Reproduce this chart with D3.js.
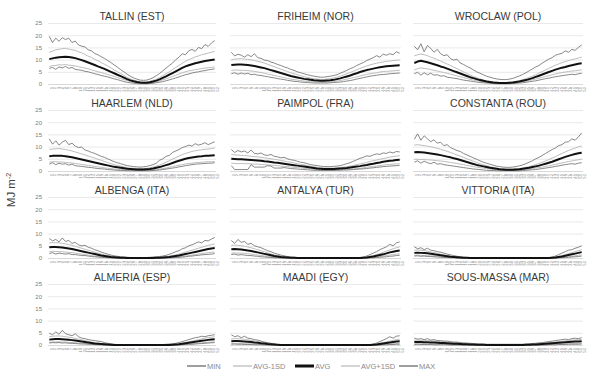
<!DOCTYPE html>
<html><head><meta charset="utf-8">
<script src="https://cdn.jsdelivr.net/npm/d3@7/dist/d3.min.js"></script>
<style>body{margin:0;background:#fff}svg{display:block;font-family:"Liberation Sans",Arial,sans-serif}</style>
</head><body><svg id="c" width="600" height="379"></svg>
<script>
const weeks = ["1","2","3","4","5","6","7","8","9","10","11","12","13","14","15","16","17","18","19","20","21","22","23","24","25","26","27","28","29","30","31","32","33","34","35","36","37","38","39","40","41","42","43","44","45","46","47","48","49","50","51","52"];
const yTicks = [0,5,10,15,20,25];
const seriesNames = ["MIN","AVG-1SD","AVG","AVG+1SD","MAX"];
const stationNames = ["TALLIN (EST)","FRIHEIM (NOR)","WROCLAW (POL)","HAARLEM (NLD)","PAIMPOL (FRA)","CONSTANTA (ROU)","ALBENGA (ITA)","ANTALYA (TUR)","VITTORIA (ITA)","ALMERIA (ESP)","MAADI (EGY)","SOUS-MASSA (MAR)"];

// TALLIN
const tallinAvg=[10.2,10.5,10.8,11.0,11.1,11.2,11.1,10.9,10.6,10.2,9.8,9.3,8.8,8.3,7.8,7.2,6.7,6.2,5.6,5.0,4.4,3.8,3.2,2.6,2.0,1.5,1.1,0.8,0.6,0.5,0.5,0.7,1.0,1.4,1.9,2.5,3.1,3.8,4.5,5.2,5.9,6.6,7.2,7.7,8.1,8.5,8.8,9.1,9.4,9.6,9.8,10.0];
const tallinHi=[13.0,13.5,14.0,14.2,14.5,14.6,14.3,14.0,13.8,13.2,12.8,12.1,11.4,10.9,10.1,9.5,8.8,8.1,7.4,6.6,5.8,5.0,4.3,3.5,2.7,2.1,1.6,1.2,0.9,0.8,0.8,1.1,1.5,2.0,2.6,3.4,4.2,5.0,5.9,6.8,7.6,8.5,9.3,10.0,10.5,11.1,11.5,12.0,12.3,12.7,13.0,13.4];
const tallinLo=[7.2,7.5,7.6,7.9,7.8,8.0,7.7,7.6,7.4,7.1,6.8,6.5,6.2,5.8,5.4,5.0,4.7,4.3,3.9,3.5,3.1,2.6,2.2,1.8,1.4,1.0,0.7,0.5,0.3,0.3,0.3,0.4,0.6,0.9,1.2,1.7,2.1,2.6,3.1,3.6,4.1,4.6,5.0,5.4,5.6,5.9,6.1,6.3,6.5,6.7,6.8,7.0];
const tallinMax=[19.5,17.0,18.8,17.5,19.0,18.2,18.8,17.0,17.6,16.0,15.5,15.2,14.0,13.6,12.5,12.0,11.2,10.5,9.6,8.8,7.8,6.9,5.9,5.0,4.0,3.2,2.5,2.0,1.6,1.5,1.6,2.0,2.6,3.4,4.3,5.4,6.5,7.6,8.6,10.0,11.0,12.4,12.0,13.6,14.2,13.4,15.0,14.5,16.2,15.4,16.8,17.8];
const tallinMin=[6.4,6.8,6.0,7.0,6.6,7.2,6.4,6.8,6.0,5.8,5.6,5.2,5.0,4.6,4.2,3.9,3.5,3.2,2.9,2.5,2.1,1.8,1.4,1.0,0.7,0.5,0.3,0.2,0.1,0.1,0.1,0.2,0.3,0.5,0.7,1.0,1.3,1.7,2.1,2.5,2.9,3.4,3.8,4.1,4.5,4.8,5.0,5.3,5.5,5.8,6.0,6.2];
// FRIHEIM
const friheimAvg=[7.8,7.9,8.0,8.0,7.9,7.8,7.6,7.4,7.1,6.8,6.5,6.1,5.7,5.3,4.9,4.5,4.1,3.7,3.3,3.0,2.7,2.4,2.1,1.9,1.7,1.5,1.4,1.3,1.3,1.4,1.5,1.7,2.0,2.3,2.7,3.1,3.5,4.0,4.4,4.9,5.3,5.7,6.0,6.3,6.6,6.9,7.1,7.3,7.4,7.5,7.6,7.7];
const friheimHi=[10.0,10.2,10.3,10.4,10.2,10.1,9.9,9.6,9.3,9.0,8.6,8.1,7.6,7.1,6.6,6.1,5.6,5.1,4.6,4.2,3.8,3.4,3.0,2.7,2.4,2.2,2.0,1.9,1.9,2.0,2.2,2.5,2.8,3.2,3.7,4.2,4.7,5.3,5.8,6.4,6.9,7.4,7.8,8.2,8.5,8.8,9.0,9.3,9.4,9.6,9.7,9.9];
const friheimLo=[5.6,5.7,5.7,5.6,5.6,5.5,5.3,5.2,4.9,4.7,4.4,4.1,3.8,3.5,3.2,2.9,2.6,2.3,2.0,1.8,1.6,1.4,1.2,1.1,1.0,0.9,0.8,0.7,0.7,0.8,0.9,1.0,1.2,1.4,1.7,2.0,2.3,2.6,2.9,3.3,3.6,3.9,4.2,4.4,4.6,4.9,5.1,5.2,5.3,5.4,5.5,5.6];
const friheimMax=[13.0,11.5,12.2,11.8,11.0,12.0,11.2,12.4,10.8,10.5,9.8,9.6,9.0,8.6,8.0,7.6,7.0,6.6,6.0,5.6,5.0,4.6,4.2,3.8,3.5,3.2,3.0,2.8,2.8,3.0,3.2,3.5,3.8,4.4,5.0,5.6,6.3,6.8,7.6,8.2,8.8,9.6,10.2,10.8,11.6,11.0,12.2,11.8,12.4,12.0,13.2,12.6];
const friheimMin=[4.2,4.6,4.0,4.5,4.1,4.4,3.8,4.0,3.6,3.5,3.2,3.0,2.7,2.5,2.2,2.0,1.8,1.5,1.3,1.1,1.0,0.8,0.7,0.6,0.5,0.4,0.4,0.4,0.4,0.4,0.5,0.6,0.7,0.8,1.0,1.2,1.4,1.7,2.0,2.3,2.6,2.9,3.2,3.4,3.6,3.8,3.9,4.0,4.2,4.3,4.4,4.5];
// WROCLAW
const wroclawAvg=[8.6,9.2,9.5,9.2,8.9,8.5,8.1,7.7,7.2,6.8,6.3,5.8,5.3,4.8,4.3,3.8,3.3,2.8,2.4,2.0,1.6,1.3,1.0,0.8,0.6,0.5,0.4,0.4,0.4,0.5,0.6,0.8,1.0,1.3,1.6,2.0,2.4,2.9,3.4,3.9,4.4,4.9,5.4,5.9,6.3,6.7,7.0,7.4,7.7,8.0,8.3,8.5];
const wroclawHi=[11.5,12.0,12.3,12.0,11.6,11.0,10.6,10.0,9.4,8.8,8.2,7.6,6.9,6.3,5.6,5.0,4.3,3.7,3.1,2.6,2.1,1.7,1.3,1.1,0.9,0.7,0.6,0.6,0.6,0.7,0.9,1.1,1.4,1.8,2.2,2.7,3.2,3.8,4.5,5.1,5.8,6.4,7.1,7.7,8.2,8.8,9.2,9.6,10.0,10.3,10.6,11.0];
const wroclawLo=[5.8,6.3,6.6,6.4,6.2,5.9,5.6,5.3,5.0,4.7,4.4,4.0,3.7,3.3,3.0,2.6,2.3,1.9,1.6,1.4,1.1,0.9,0.7,0.5,0.4,0.3,0.2,0.2,0.2,0.3,0.4,0.5,0.7,0.9,1.1,1.4,1.7,2.0,2.4,2.7,3.1,3.4,3.8,4.1,4.4,4.7,4.9,5.1,5.3,5.4,5.6,5.8];
const wroclawMax=[15.5,14.0,16.5,13.2,15.8,14.6,13.0,14.2,12.4,11.6,12.0,10.4,9.8,10.2,8.6,8.0,7.2,6.6,5.8,5.0,4.4,3.8,3.2,2.8,2.4,2.1,1.9,1.8,1.8,2.0,2.3,2.8,3.3,3.9,4.6,5.4,6.2,7.0,7.6,8.6,9.4,10.2,10.8,11.8,12.2,12.6,13.6,13.0,14.2,13.8,15.0,16.0];
const wroclawMin=[4.2,4.8,3.6,4.6,3.8,4.4,3.6,3.8,3.2,3.4,2.8,2.6,2.4,2.2,1.9,1.6,1.4,1.2,1.0,0.8,0.6,0.5,0.4,0.3,0.2,0.1,0.1,0.1,0.1,0.1,0.2,0.3,0.4,0.5,0.7,0.9,1.1,1.3,1.6,1.9,2.2,2.4,2.7,3.0,3.2,3.4,3.6,3.8,4.0,3.8,4.2,4.4];
// HAARLEM
const haarlemAvg=[6.0,6.2,6.3,6.3,6.2,6.0,5.8,5.6,5.3,5.0,4.7,4.4,4.1,3.8,3.5,3.2,2.9,2.6,2.3,2.0,1.7,1.5,1.3,1.1,0.9,0.8,0.7,0.6,0.6,0.6,0.7,0.8,1.0,1.3,1.6,2.0,2.4,2.8,3.3,3.8,4.2,4.6,5.0,5.3,5.5,5.7,5.9,6.0,6.2,6.3,6.4,6.5];
const haarlemHi=[8.8,9.0,9.1,9.2,9.0,8.8,8.5,8.2,7.8,7.4,7.0,6.6,6.1,5.7,5.3,4.8,4.4,3.9,3.5,3.0,2.6,2.3,2.0,1.7,1.4,1.2,1.1,1.0,1.0,1.0,1.1,1.3,1.6,2.0,2.4,3.0,3.6,4.2,4.9,5.5,6.1,6.7,7.2,7.6,8.0,8.3,8.5,8.7,8.9,9.0,9.2,9.4];
const haarlemLo=[3.6,3.8,3.8,3.7,3.7,3.5,3.4,3.3,3.1,2.9,2.7,2.5,2.3,2.1,1.9,1.7,1.5,1.3,1.1,1.0,0.8,0.7,0.6,0.5,0.4,0.3,0.3,0.2,0.2,0.2,0.3,0.3,0.4,0.6,0.8,1.0,1.2,1.5,1.8,2.1,2.4,2.6,2.9,3.1,3.2,3.4,3.5,3.6,3.7,3.8,3.8,3.9];
const haarlemMax=[13.2,11.0,12.4,10.6,11.8,12.6,10.8,11.4,10.2,9.6,9.8,8.6,8.2,7.6,7.2,6.6,6.0,5.6,5.0,4.4,3.8,3.4,3.0,2.6,2.2,2.0,1.8,1.7,1.6,1.7,1.9,2.2,2.6,3.2,4.4,5.0,6.0,6.4,7.6,8.2,8.8,9.6,10.0,10.6,10.2,11.2,10.6,11.0,11.6,10.8,11.4,12.0];
const haarlemMin=[2.8,3.4,2.6,3.2,2.8,3.0,2.4,2.8,2.2,2.0,1.9,1.7,1.5,1.4,1.2,1.0,0.9,0.8,0.6,0.5,0.4,0.3,0.2,0.2,0.1,0.1,0.1,0.1,0.1,0.1,0.1,0.1,0.2,0.3,0.4,0.6,0.8,1.0,1.2,1.4,1.7,1.9,2.2,2.4,2.6,2.8,2.9,3.0,3.1,3.2,3.2,3.4];
// PAIMPOL
const paimpolAvg=[5.0,4.9,4.8,4.8,4.7,4.6,4.5,4.4,4.3,4.2,4.0,3.9,3.7,3.5,3.4,3.2,3.0,2.8,2.6,2.4,2.2,2.0,1.8,1.6,1.4,1.2,1.0,0.9,0.8,0.8,0.8,0.8,0.9,1.0,1.1,1.2,1.4,1.6,1.8,2.0,2.3,2.5,2.8,3.0,3.3,3.5,3.8,4.0,4.2,4.3,4.5,4.6];
const paimpolHi=[6.8,6.6,6.5,6.4,6.3,6.2,6.0,5.9,5.8,5.6,5.4,5.2,5.0,4.8,4.6,4.3,4.1,3.8,3.6,3.3,3.0,2.7,2.5,2.2,1.9,1.7,1.5,1.3,1.2,1.2,1.2,1.2,1.3,1.4,1.6,1.8,2.0,2.3,2.6,2.9,3.2,3.5,3.9,4.2,4.5,4.8,5.1,5.4,5.7,5.9,6.1,6.3];
const paimpolLo=[3.2,3.1,3.0,3.1,3.0,3.0,2.9,2.8,2.8,2.7,2.6,2.5,2.4,2.3,2.2,2.0,1.9,1.8,1.6,1.5,1.4,1.3,1.1,1.0,0.9,0.7,0.6,0.5,0.4,0.4,0.4,0.4,0.5,0.6,0.6,0.7,0.8,0.9,1.0,1.1,1.3,1.5,1.7,1.8,2.0,2.2,2.4,2.6,2.7,2.8,2.9,3.0];
const paimpolMax=[8.8,7.6,8.4,7.8,8.2,7.4,8.6,7.2,7.0,7.4,6.6,6.4,6.8,6.0,5.8,5.4,5.6,5.0,4.6,4.4,4.0,3.6,3.4,3.0,2.6,2.4,2.2,2.0,1.8,1.8,1.8,1.9,2.0,2.2,2.6,3.0,3.4,4.0,4.6,5.2,5.6,6.2,6.0,6.6,7.0,6.8,7.4,7.2,7.8,7.4,8.0,7.8];
const paimpolMin=[2.2,0.6,0.6,0.6,0.6,0.6,2.6,1.6,1.6,1.6,1.6,2.2,2.0,1.2,1.2,1.2,1.4,1.2,1.0,0.9,0.8,0.7,0.6,0.5,0.4,0.3,0.3,0.2,0.2,0.2,0.2,0.2,0.3,0.3,0.4,0.4,0.5,0.6,0.7,0.8,0.9,1.0,1.2,1.3,1.5,1.6,1.8,1.9,2.0,2.1,2.2,2.3];
// CONSTANTA
const constantaAvg=[7.7,7.8,7.7,7.6,7.4,7.2,7.0,6.8,6.5,6.2,5.9,5.6,5.2,4.9,4.5,4.1,3.7,3.3,2.9,2.5,2.2,1.9,1.6,1.3,1.1,0.9,0.7,0.6,0.5,0.5,0.5,0.6,0.7,0.9,1.1,1.3,1.6,1.9,2.2,2.6,3.0,3.4,3.8,4.3,4.8,5.3,5.8,6.2,6.6,7.0,7.3,7.5];
const constantaHi=[10.6,10.8,10.6,10.4,10.2,9.9,9.6,9.3,8.9,8.5,8.1,7.6,7.1,6.6,6.1,5.6,5.0,4.5,4.0,3.5,3.0,2.6,2.2,1.8,1.5,1.2,1.0,0.9,0.8,0.8,0.8,0.9,1.0,1.2,1.5,1.8,2.2,2.6,3.1,3.6,4.1,4.7,5.3,5.9,6.6,7.2,7.8,8.4,8.9,9.4,9.9,10.3];
const constantaLo=[4.8,4.8,4.7,4.7,4.6,4.5,4.4,4.2,4.1,3.9,3.7,3.5,3.3,3.1,2.8,2.6,2.3,2.1,1.8,1.6,1.4,1.2,1.0,0.8,0.6,0.5,0.4,0.3,0.2,0.2,0.2,0.3,0.4,0.5,0.7,0.8,1.0,1.2,1.4,1.6,1.9,2.1,2.4,2.7,3.0,3.3,3.6,3.9,4.1,4.4,4.6,4.8];
const constantaMax=[13.0,15.2,12.6,14.4,13.2,12.0,12.8,11.4,11.8,10.4,10.8,9.6,9.0,8.4,8.0,7.2,6.6,6.0,5.4,4.8,4.2,3.6,3.2,2.8,2.4,2.0,1.8,1.6,1.5,1.5,1.6,1.8,2.1,2.5,3.0,3.6,4.2,5.0,5.6,6.4,7.2,8.0,8.8,9.4,10.4,10.8,11.8,12.0,13.2,12.6,14.0,15.6];
const constantaMin=[3.6,4.2,3.2,4.0,3.4,3.0,3.6,2.8,3.0,2.6,2.4,2.2,2.0,1.8,1.6,1.4,1.2,1.0,0.8,0.7,0.6,0.4,0.3,0.2,0.2,0.1,0.1,0.1,0.1,0.1,0.1,0.1,0.1,0.2,0.3,0.4,0.5,0.6,0.8,1.0,1.2,1.4,1.6,1.9,2.1,2.4,2.6,2.8,3.0,2.8,3.2,3.4];
// ALBENGA
const albengaAvg=[4.4,4.5,4.5,4.4,4.3,4.1,3.9,3.7,3.4,3.1,2.8,2.5,2.2,1.9,1.6,1.3,1.0,0.8,0.6,0.4,0.3,0.2,0.1,0.1,0,0,0,0,0,0,0,0,0,0.1,0.1,0.2,0.3,0.4,0.6,0.8,1.0,1.3,1.6,1.9,2.2,2.5,2.8,3.1,3.4,3.7,3.9,4.1];
const albengaHi=[6.2,6.3,6.3,6.2,6.0,5.8,5.5,5.2,4.8,4.4,4.0,3.6,3.2,2.8,2.4,2.0,1.6,1.3,1.0,0.7,0.5,0.4,0.2,0.2,0.1,0.1,0,0,0,0,0,0.1,0.1,0.2,0.2,0.4,0.5,0.7,1.0,1.3,1.6,2.0,2.4,2.8,3.2,3.6,4.0,4.4,4.8,5.2,5.5,5.8];
const albengaLo=[2.6,2.7,2.7,2.6,2.6,2.4,2.3,2.2,2.0,1.8,1.6,1.4,1.2,1.0,0.8,0.6,0.4,0.3,0.2,0.1,0.1,0,0,0,0,0,0,0,0,0,0,0,0,0,0,0,0.1,0.1,0.2,0.3,0.4,0.6,0.8,1.0,1.2,1.4,1.6,1.8,2.0,2.2,2.3,2.4];
const albengaMax=[8.0,7.0,7.6,6.6,8.2,6.8,7.2,6.0,6.4,5.4,5.0,5.2,4.4,4.0,3.4,3.0,2.4,2.0,1.6,1.2,0.9,0.7,0.5,0.4,0.3,0.2,0.2,0.2,0.2,0.2,0.2,0.3,0.4,0.5,0.6,0.8,1.1,1.5,2.0,2.6,3.0,3.8,4.2,5.0,5.4,6.0,6.6,6.2,7.2,7.0,7.8,8.4];
const albengaMin=[1.8,2.2,1.6,2.0,1.8,1.6,1.8,1.4,1.4,1.2,1.0,1.0,0.8,0.6,0.5,0.4,0.3,0.2,0.1,0.1,0,0,0,0,0,0,0,0,0,0,0,0,0,0,0,0,0,0.1,0.1,0.2,0.3,0.4,0.5,0.7,0.8,1.0,1.1,1.3,1.4,1.5,1.6,1.8];
// ANTALYA
const antalyaAvg=[3.6,3.7,3.6,3.5,3.3,3.1,2.9,2.6,2.3,2.0,1.7,1.4,1.1,0.8,0.6,0.4,0.3,0.2,0.1,0.1,0,0,0,0,0,0,0,0,0,0,0,0,0,0,0,0,0,0,0,0,0.1,0.2,0.4,0.6,0.9,1.2,1.5,1.9,2.3,2.6,2.9,3.1];
const antalyaHi=[5.2,5.3,5.2,5.0,4.8,4.5,4.2,3.8,3.4,3.0,2.6,2.1,1.7,1.3,1.0,0.7,0.5,0.3,0.2,0.1,0,0,0,0,0,0,0,0,0,0,0,0,0,0,0,0,0,0,0,0,0.2,0.4,0.7,1.0,1.4,1.8,2.3,2.8,3.3,3.8,4.2,4.6];
const antalyaLo=[2.0,2.1,2.0,2.0,1.9,1.8,1.6,1.4,1.2,1.0,0.8,0.6,0.5,0.3,0.2,0.1,0.1,0,0,0,0,0,0,0,0,0,0,0,0,0,0,0,0,0,0,0,0,0,0,0,0,0.1,0.1,0.2,0.4,0.6,0.8,1.0,1.2,1.4,1.6,1.7];
const antalyaMax=[7.2,6.0,7.6,6.4,6.8,5.6,6.0,5.0,4.6,4.2,3.6,3.0,2.6,2.0,1.6,1.2,0.9,0.6,0.4,0.3,0.2,0.1,0.1,0,0,0,0,0,0,0,0,0,0,0,0,0,0,0.1,0.1,0.2,0.4,0.8,1.4,2.0,2.6,3.4,4.0,4.6,5.6,5.0,6.2,6.6];
const antalyaMin=[1.4,1.6,1.2,1.4,1.2,1.0,1.0,0.8,0.7,0.5,0.4,0.3,0.2,0.1,0.1,0,0,0,0,0,0,0,0,0,0,0,0,0,0,0,0,0,0,0,0,0,0,0,0,0,0,0,0.1,0.1,0.2,0.3,0.4,0.5,0.7,0.8,1.0,1.1];
// VITTORIA
const vittoriaAvg=[2.1,2.2,2.1,2.0,1.9,1.7,1.5,1.3,1.1,0.9,0.7,0.5,0.4,0.3,0.2,0.1,0.1,0,0,0,0,0,0,0,0,0,0,0,0,0,0,0,0,0,0,0,0,0,0,0,0,0,0.1,0.2,0.4,0.6,0.9,1.2,1.5,1.8,2.1,2.4];
const vittoriaHi=[3.2,3.3,3.2,3.0,2.8,2.5,2.2,1.9,1.6,1.3,1.0,0.8,0.6,0.4,0.3,0.2,0.1,0,0,0,0,0,0,0,0,0,0,0,0,0,0,0,0,0,0,0,0,0,0,0,0,0,0.2,0.4,0.7,1.0,1.4,1.8,2.2,2.6,3.0,3.4];
const vittoriaLo=[1.1,1.2,1.1,1.0,1.0,0.9,0.8,0.7,0.6,0.5,0.4,0.3,0.2,0.1,0.1,0,0,0,0,0,0,0,0,0,0,0,0,0,0,0,0,0,0,0,0,0,0,0,0,0,0,0,0,0.1,0.1,0.2,0.4,0.5,0.7,0.9,1.1,1.3];
const vittoriaMax=[4.6,3.8,4.2,3.4,4.0,3.2,3.0,2.6,2.4,2.0,1.6,1.3,1.0,0.7,0.5,0.3,0.2,0.1,0.1,0,0,0,0,0,0,0,0,0,0,0,0,0,0,0,0,0,0,0,0,0,0.1,0.1,0.4,0.8,1.4,2.0,2.6,3.2,3.4,4.0,4.4,5.0];
const vittoriaMin=[0.8,0.9,0.7,0.8,0.6,0.6,0.5,0.4,0.3,0.2,0.2,0.1,0.1,0,0,0,0,0,0,0,0,0,0,0,0,0,0,0,0,0,0,0,0,0,0,0,0,0,0,0,0,0,0,0,0.1,0.1,0.2,0.3,0.4,0.5,0.6,0.8];
// ALMERIA
const almeriaAvg=[2.2,2.4,2.5,2.5,2.4,2.3,2.2,2.0,1.8,1.6,1.4,1.2,1.0,0.8,0.6,0.5,0.4,0.3,0.2,0.1,0,0,0,0,0,0,0,0,0,0,0,0,0,0,0,0,0,0,0.1,0.2,0.3,0.5,0.7,0.9,1.1,1.3,1.5,1.7,1.9,2.1,2.3,2.4];
const almeriaHi=[3.4,3.6,3.7,3.7,3.6,3.4,3.2,3.0,2.7,2.4,2.1,1.8,1.5,1.2,1.0,0.8,0.6,0.4,0.3,0.2,0.1,0.1,0,0,0,0,0,0,0,0,0,0,0,0,0,0,0.1,0.1,0.2,0.3,0.5,0.7,1.0,1.3,1.6,1.9,2.2,2.5,2.8,3.0,3.2,3.4];
const almeriaLo=[1.1,1.2,1.3,1.3,1.2,1.2,1.1,1.0,0.9,0.8,0.7,0.6,0.5,0.4,0.3,0.2,0.2,0.1,0.1,0,0,0,0,0,0,0,0,0,0,0,0,0,0,0,0,0,0,0,0,0.1,0.1,0.2,0.3,0.4,0.5,0.6,0.8,0.9,1.0,1.1,1.2,1.3];
const almeriaMax=[4.8,4.2,5.4,4.4,6.0,4.6,4.2,3.8,4.6,3.4,2.8,2.6,2.2,2.0,1.8,1.6,1.4,1.0,0.7,0.5,0.3,0.2,0.2,0.1,0.1,0.1,0.1,0.1,0.1,0.1,0.1,0.1,0.1,0.1,0.2,0.2,0.3,0.4,0.5,0.7,1.0,1.4,1.8,2.2,2.6,3.0,3.2,3.6,3.4,3.8,4.0,4.2];
const almeriaMin=[0.8,1.0,0.9,1.0,0.8,0.9,0.7,0.7,0.6,0.5,0.4,0.4,0.3,0.2,0.2,0.1,0.1,0,0,0,0,0,0,0,0,0,0,0,0,0,0,0,0,0,0,0,0,0,0,0,0.1,0.1,0.2,0.3,0.3,0.4,0.5,0.6,0.7,0.8,0.9,1.0];
// MAADI
const maadiAvg=[1.5,1.6,1.6,1.5,1.4,1.3,1.2,1.0,0.9,0.7,0.6,0.4,0.3,0.2,0.1,0,0,0,0,0,0,0,0,0,0,0,0,0,0,0,0,0,0,0,0,0,0,0,0,0,0,0,0,0.1,0.2,0.4,0.6,0.8,1.0,1.2,1.4,1.5];
const maadiHi=[2.5,2.6,2.6,2.5,2.3,2.1,1.9,1.7,1.4,1.2,0.9,0.7,0.5,0.3,0.2,0,0,0,0,0,0,0,0,0,0,0,0,0,0,0,0,0,0,0,0,0,0,0,0,0,0,0,0,0.2,0.4,0.7,1.0,1.3,1.6,1.9,2.2,2.4];
const maadiLo=[0.6,0.7,0.7,0.6,0.6,0.5,0.5,0.4,0.3,0.3,0.2,0.1,0.1,0,0,0,0,0,0,0,0,0,0,0,0,0,0,0,0,0,0,0,0,0,0,0,0,0,0,0,0,0,0,0,0.1,0.1,0.2,0.3,0.4,0.5,0.6,0.7];
const maadiMax=[4.2,3.4,3.8,3.0,3.6,2.8,2.6,2.2,2.0,1.6,1.2,1.0,0.7,0.4,0.2,0,0,0,0,0,0,0,0,0,0,0,0,0,0,0,0,0,0,0,0,0,0,0,0,0,0,0,0,0.4,0.8,1.4,2.0,2.6,3.4,2.8,3.6,3.8];
const maadiMin=[0.3,0.4,0.3,0.3,0.2,0.2,0.2,0.1,0.1,0.1,0,0,0,0,0,0,0,0,0,0,0,0,0,0,0,0,0,0,0,0,0,0,0,0,0,0,0,0,0,0,0,0,0,0,0,0,0.1,0.1,0.2,0.2,0.3,0.3];
// SOUS-MASSA
const sousmassaAvg=[1.2,1.2,1.2,1.1,1.1,1.0,1.0,0.9,0.8,0.8,0.7,0.6,0.5,0.5,0.4,0.3,0.3,0.2,0.2,0.1,0.1,0.1,0,0,0,0,0,0,0,0,0,0,0,0,0.1,0.1,0.2,0.2,0.3,0.4,0.5,0.6,0.7,0.8,0.9,1.0,1.1,1.2,1.3,1.4,1.4,1.5];
const sousmassaHi=[1.9,2.0,1.9,1.9,1.8,1.7,1.6,1.5,1.4,1.3,1.1,1.0,0.9,0.8,0.7,0.6,0.5,0.4,0.3,0.3,0.2,0.2,0.1,0.1,0.1,0.1,0.1,0.1,0.1,0.1,0.1,0.1,0.1,0.1,0.2,0.2,0.3,0.4,0.5,0.6,0.8,0.9,1.1,1.2,1.4,1.5,1.7,1.8,2.0,2.1,2.2,2.3];
const sousmassaLo=[0.5,0.5,0.5,0.5,0.4,0.4,0.4,0.3,0.3,0.3,0.2,0.2,0.2,0.1,0.1,0.1,0,0,0,0,0,0,0,0,0,0,0,0,0,0,0,0,0,0,0,0,0,0,0.1,0.1,0.2,0.2,0.3,0.3,0.4,0.4,0.5,0.5,0.6,0.6,0.7,0.7];
const sousmassaMax=[2.8,2.4,2.6,2.2,2.6,2.0,2.2,1.8,1.8,1.6,1.6,1.4,1.2,1.2,1.0,0.9,0.8,0.7,0.6,0.5,0.4,0.4,0.3,0.3,0.3,0.3,0.3,0.3,0.3,0.3,0.3,0.3,0.3,0.3,0.4,0.5,0.6,0.7,0.9,1.0,1.2,1.4,1.6,1.8,2.0,2.2,2.4,2.2,2.6,2.8,2.6,3.0];
const sousmassaMin=[0.2,0.3,0.2,0.2,0.2,0.2,0.1,0.1,0.1,0.1,0.1,0,0,0,0,0,0,0,0,0,0,0,0,0,0,0,0,0,0,0,0,0,0,0,0,0,0,0,0,0,0,0.1,0.1,0.1,0.2,0.2,0.2,0.3,0.3,0.3,0.3,0.4];

const stationData = [
  [tallinMin,tallinLo,tallinAvg,tallinHi,tallinMax],
  [friheimMin,friheimLo,friheimAvg,friheimHi,friheimMax],
  [wroclawMin,wroclawLo,wroclawAvg,wroclawHi,wroclawMax],
  [haarlemMin,haarlemLo,haarlemAvg,haarlemHi,haarlemMax],
  [paimpolMin,paimpolLo,paimpolAvg,paimpolHi,paimpolMax],
  [constantaMin,constantaLo,constantaAvg,constantaHi,constantaMax],
  [albengaMin,albengaLo,albengaAvg,albengaHi,albengaMax],
  [antalyaMin,antalyaLo,antalyaAvg,antalyaHi,antalyaMax],
  [vittoriaMin,vittoriaLo,vittoriaAvg,vittoriaHi,vittoriaMax],
  [almeriaMin,almeriaLo,almeriaAvg,almeriaHi,almeriaMax],
  [maadiMin,maadiLo,maadiAvg,maadiHi,maadiMax],
  [sousmassaMin,sousmassaLo,sousmassaAvg,sousmassaHi,sousmassaMax]
];

const styles = [
  {stroke:"#6a6a6a", w:0.8},
  {stroke:"#bdbdbd", w:1},
  {stroke:"#111111", w:2},
  {stroke:"#bdbdbd", w:1},
  {stroke:"#6a6a6a", w:0.8}
];
const drawOrder = [1,3,0,4,2];

const colX = [[48,216],[230,401],[413,583]];
const rowTop = [23,110,197,284];
const plotH = 61;

const svg = d3.select("#c");

stationNames.forEach((name, i) => {
  const col = i % 3, row = Math.floor(i / 3);
  const [x0, x1] = colX[col];
  const top = rowTop[row], bottom = top + plotH;
  const x = d3.scalePoint().domain(weeks).range([x0, x1]).padding(0.4);
  const y = d3.scaleLinear().domain([0, 25]).range([bottom, top]);
  const g = svg.append("g");

  // gridlines
  g.append("g").attr("transform", `translate(${x0},0)`)
    .call(d3.axisLeft(y).tickValues(yTicks).tickSize(-(x1 - x0)).tickFormat(""))
    .call(s => s.select(".domain").remove())
    .call(s => s.selectAll("line").attr("stroke", d => d === 0 ? "#cfcfcf" : "#e3e3e3").attr("stroke-width", 0.8));

  if (col === 0) {
    g.append("g").attr("transform", `translate(${x0 - 3},0)`)
      .call(d3.axisLeft(y).tickValues(yTicks).tickSize(0))
      .call(s => s.select(".domain").remove())
      .call(s => s.selectAll("text").attr("fill", "#7a7a7a").attr("font-size", 6).attr("font-family", "Liberation Sans, Arial, sans-serif"));
  }

  // x tick labels
  g.append("g").attr("transform", `translate(0,${bottom})`)
    .call(d3.axisBottom(x).tickSize(0).tickPadding(2))
    .call(s => s.select(".domain").remove())
    .call(s => s.selectAll("text")
      .attr("fill", "#8c8c8c").attr("font-size", 4.2)
      .attr("font-family", "Liberation Sans, Arial, sans-serif")
      .attr("text-anchor", "end").attr("dy", "0.32em").attr("dx", 0)
      .attr("transform", "translate(0,3) rotate(-90)"));

  // title
  g.append("text").attr("x", (x0 + x1) / 2).attr("y", top - 3)
    .attr("text-anchor", "middle").attr("font-size", 10.5).attr("fill", "#3a3a3a")
    .text(name);

  const line = d3.line().x((d, k) => x(weeks[k])).y(d => y(d));
  drawOrder.forEach(si => {
    g.append("path").datum(stationData[i][si])
      .attr("d", line).attr("fill", "none")
      .attr("stroke", styles[si].stroke).attr("stroke-width", styles[si].w)
      .attr("stroke-linejoin", "round");
  });
});

// y axis title
const yt = svg.append("text").attr("transform", "translate(15,190) rotate(-90)")
  .attr("text-anchor", "middle").attr("font-size", 11.5).attr("fill", "#454545");
yt.append("tspan").text("MJ m");
yt.append("tspan").attr("font-size", 7).attr("dy", -4).text("-2");

// legend
const legendX = [187, 233, 295, 341, 399];
const legend = svg.append("g").attr("transform", "translate(0,366)");
seriesNames.forEach((nm, si) => {
  const lx = legendX[si];
  legend.append("line").attr("x1", lx).attr("x2", lx + 19).attr("y1", 0).attr("y2", 0)
    .attr("stroke", styles[si].stroke).attr("stroke-width", si === 2 ? 3 : 1.3);
  legend.append("text").attr("x", lx + 20).attr("y", 2.8).attr("font-size", 7.5)
    .attr("fill", "#8a8a8a").text(nm);
});
</script>
</body></html>
